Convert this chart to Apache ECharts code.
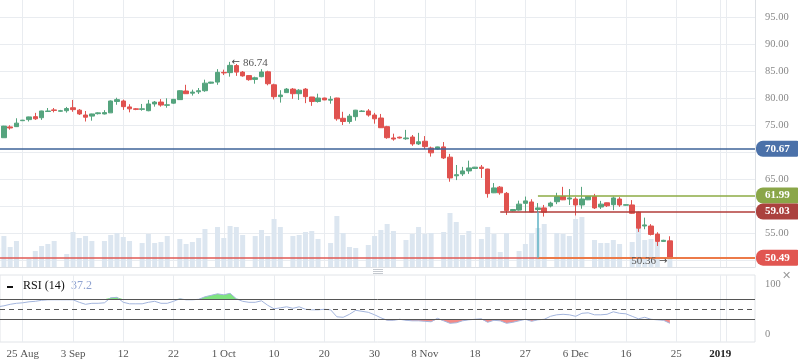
<!DOCTYPE html>
<html><head><meta charset="utf-8">
<script src="https://cdn.jsdelivr.net/npm/echarts@6/dist/echarts.min.js"></script>
<style>html,body{margin:0;padding:0;background:#fff}#c{width:798px;height:363px}</style>
</head><body><div id="c"></div>
<script>
// ---- data (one entry per candle, left to right) ----
const opens  = [72.1,72.7,74.7,74.75,75.85,76.05,76.6,76.4,77.55,77.85,77.6,77.7,78.25,77.8,76.9,76.7,77.15,77.1,77.3,79.4,79.5,78.4,78.05,77.95,77.7,78.95,79.3,78.7,79.1,79.75,81.35,80.95,81.2,81.4,82.8,83.0,84.8,84.75,86.05,84.85,84.2,83.5,84.0,84.9,82.5,80.3,81.05,81.7,80.85,81.7,80.24,79.4,80.05,79.65,80.05,76.3,75.7,76.6,77.55,77.65,76.9,76.35,74.75,72.65,72.8,72.5,72.83,71.55,72.05,70.8,70.6,71.0,69.1,65.65,66.0,66.55,67.0,67.25,66.9,62.5,63.55,62.4,59.15,59.3,60.55,60.8,59.4,59.7,60.05,60.85,61.8,61.35,61.35,60.25,61.2,61.8,59.87,60.65,60.3,61.35,60.2,60.25,58.9,56.35,56.35,54.85,53.5,53.6];
const closes = [72.9,74.85,74.5,75.4,75.95,76.55,76.2,77.65,77.65,77.75,77.7,78.1,77.9,77.1,76.5,77.1,77.3,77.35,79.5,79.75,78.45,78.05,77.95,78.05,78.95,79.3,78.75,78.8,79.8,81.4,80.85,81.15,81.4,82.8,83.0,84.8,84.7,86.1,84.85,84.15,83.45,83.8,84.87,82.7,80.3,80.6,81.7,80.85,81.5,80.3,79.4,80.05,79.7,79.8,76.2,75.7,76.7,77.8,77.65,76.9,76.2,74.55,72.7,72.45,72.65,72.65,71.55,71.95,71.05,69.9,71.0,68.95,65.25,65.85,66.55,67.1,67.25,67.0,62.35,63.4,62.5,59.2,59.4,60.4,61.0,58.95,59.7,58.9,60.6,61.8,61.2,61.55,60.25,61.35,61.8,59.7,60.4,60.1,61.55,60.25,60.3,58.7,55.95,56.55,54.8,53.5,53.7,50.49];
const lows   = [71.9,72.7,74.2,74.7,75.8,75.7,76.0,76.0,77.5,77.4,77.5,77.35,77.5,76.9,75.7,75.85,77.0,77.0,77.3,78.8,77.85,77.4,77.8,77.7,77.6,78.45,78.45,78.25,79.0,79.7,80.8,80.5,80.8,81.2,82.7,82.5,84.3,84.0,84.15,84.0,83.25,82.7,83.9,82.4,79.8,79.2,81.0,79.9,79.7,79.1,78.6,79.2,79.65,79.0,75.85,75.05,75.3,75.85,77.5,76.6,75.3,74.5,72.5,72.15,72.55,72.3,71.2,71.35,70.6,69.2,70.5,68.75,64.55,64.85,65.6,66.0,66.95,65.25,61.6,62.45,62.15,58.4,59.05,59.2,58.9,58.9,58.8,58.1,59.8,60.4,61.15,60.25,58.3,59.55,61.15,59.5,59.5,59.87,59.3,59.9,60.15,58.6,55.25,55.75,54.6,52.65,53.45,50.36];
const highs  = [73.0,74.9,75.0,76.3,76.0,76.6,77.3,77.7,78.2,78.2,77.85,78.4,79.7,78.0,77.65,77.15,77.4,77.8,79.6,80.1,79.75,78.9,78.2,78.95,79.7,79.5,79.85,80.0,79.9,81.5,82.5,81.6,81.9,83.45,83.05,85.4,85.3,86.74,86.35,85.05,84.3,84.0,85.4,85.1,82.7,81.5,81.9,81.9,81.7,81.9,80.25,80.85,80.1,80.4,80.1,77.5,77.1,77.85,77.8,78.0,77.3,77.1,74.9,73.45,72.9,74.15,73.2,73.6,73.0,71.05,71.05,71.9,69.7,67.65,67.3,68.45,67.3,67.65,66.95,64.3,63.75,62.65,59.5,61.05,61.8,61.3,60.6,60.25,60.85,62.5,63.6,63.2,61.7,63.6,61.9,62.3,61.0,60.7,61.8,61.7,60.35,61.15,59.0,57.9,56.7,55.2,53.8,54.45];
const volumes = [19,31,20,26,0,8,16,21,23,26,0,13,35,29,31,26,0,26,32,34,30,26,0,24,33,24,25,31,0,28,23,25,29,38,0,40,29,41,40,32,0,31,37,31,48,40,0,31,32,35,36,28,0,24,51,34,20,19,0,22,31,37,43,36,0,27,33,40,33,34,0,35,54,45,32,36,0,28,40,33,15,34,0,16,23,34,39,43,0,34,33,31,48,50,0,27,24,24,27,23,0,25,40,27,28,25,0,16];
const rsiValues = [55,57,60,62,63,65,66,68,69,69,69,69,69,64,60,62,62,63,73,74,64,61,61,61,64,66,62,62,66,71,69,69,70,75,78,81,79,82,71,66,64,64,67,58,51,53,55,52,55,50,49,49,50,49,35,34,40,48,46,44,39,33,28,28,30,28,27,27,26,25,32,27,22,23,27,29,30,31,24,28,27,22,24,27,30,26,29,30,36,39,40,39,36,42,43,39,39,40,45,42,41,36,31,34,30,29,28,22];

// x-axis ticks (positions in candle slots) and their labels
const tickSlots  = [4,12,20,28,36,44,52,60,68,76,84,92,100,108,115];
const tickLabels = ['25 Aug','3 Sep','12','22','1 Oct','10','20','30','8 Nov','18','27','6 Dec','16','25','2019'];
const extraGridSlots = [116];
const priceGrid   = [50,55,60,65,70,75,80,85,90,95];
const priceLabels = [55,65,75,80,85,90,95];
const rsiLabels   = [0,100];
const rsiLevels   = [70,50,30];

// drawn price levels
const blueLevel = 70.67, greenLevel = 61.99, darkRedLevel = 59.03, lastLevel = 50.49;
const greenFrom = 86, darkRedFrom = 80, measureSlot = 86;
const highMark = {slot: 37, value: 86.74};
const lowMark  = {slot: 107, value: 50.36};
const rsiName = 'RSI (14)', rsiShown = '37.2';

// ---- view ----
const SERIF = '"Liberation Serif","Times New Roman",serif';
const ARROWF = '"DejaVu Sans",sans-serif';
const GRID = '#e9ecf0';
const xMin = 0.38, xMax = 120.55;
const priceMin = 48.76, priceMax = 98.2;
const volMax = 267;
const rsiMin = -15.4, rsiMax = 118.6;
const UP = '#55a47e', DOWN = '#e0524f';

const chart = echarts.init(document.getElementById('c'));
const candleData = opens.map((o, i) => [i, o, closes[i], lows[i], highs[i]]);
const volData = volumes.map((v, i) => [i, v]);
const rsiData = rsiValues.map((v, i) => [i, v]);
const rsiUp = rsiValues.map((v, i) => [i, Math.max(v, 70)]);
const rsiDown = rsiValues.map((v, i) => [i, Math.min(v, 30)]);
const gridSlots = tickSlots.concat(extraGridSlots).sort((a, b) => a - b);

function badge(bg, value) {
  return {show: true, position: 'end', distance: 1, color: '#fff', fontWeight: 'bold',
    fontSize: 11, fontFamily: SERIF, backgroundColor: bg, padding: [3, 9, 2, 9],
    borderRadius: [7, 2, 2, 7], formatter: value.toFixed(2)};
}
const noteRich = {a: {fontFamily: ARROWF, fontSize: 10, color: '#444'}, t: {fontFamily: SERIF, fontSize: 11, color: '#555'}};

const option = {
  animation: false,
  backgroundColor: '#fff',
  textStyle: {fontFamily: SERIF},
  grid: [
    {left: 0, right: 43, top: 0, height: 267},
    {left: 0, right: 43, top: 275, height: 67, show: true, borderColor: '#e1e4e8', borderWidth: 1}
  ],
  xAxis: [
    {type: 'value', gridIndex: 0, min: xMin, max: xMax,
      axisLine: {show: true, onZero: false, lineStyle: {color: '#dde0e4'}},
      axisTick: {show: false, customValues: gridSlots}, axisLabel: {show: false},
      splitLine: {show: true, lineStyle: {color: GRID}}},
    {type: 'value', gridIndex: 1, min: xMin, max: xMax,
      axisLine: {show: false, onZero: false},
      axisTick: {show: false, customValues: gridSlots},
      axisLabel: {show: true, customValues: tickSlots, color: '#555', fontSize: 11, margin: 7,
        formatter: v => { const k = tickSlots.indexOf(v); const t = k >= 0 ? tickLabels[k] : '';
          return /^\d{4}$/.test(t) ? '{y|' + t + '}' : t; },
        rich: {y: {fontWeight: 'bold', color: '#222', fontSize: 11, fontFamily: SERIF}}},
      splitLine: {show: true, lineStyle: {color: GRID}}}
  ],
  yAxis: [
    {type: 'value', gridIndex: 0, position: 'right', min: priceMin, max: priceMax,
      axisLine: {show: true, lineStyle: {color: '#dde0e4'}},
      axisTick: {show: false, customValues: priceGrid},
      axisLabel: {customValues: priceLabels, formatter: v => v.toFixed(2), color: '#888', fontSize: 10.5, margin: 10},
      splitLine: {show: true, lineStyle: {color: GRID}}},
    {type: 'value', gridIndex: 0, min: 0, max: volMax, show: false},
    {type: 'value', gridIndex: 1, position: 'right', min: rsiMin, max: rsiMax,
      axisLine: {show: false}, axisTick: {show: false, customValues: rsiLabels},
      axisLabel: {customValues: rsiLabels, color: '#888', fontSize: 10.5, margin: 10},
      splitLine: {show: false}}
  ],
  series: [
    {type: 'bar', name: 'volume', xAxisIndex: 0, yAxisIndex: 1, data: volData, barWidth: 5,
      itemStyle: {color: '#dce6f0'}, z: 1, silent: true},
    {type: 'candlestick', name: 'price', xAxisIndex: 0, yAxisIndex: 0, data: candleData,
      encode: {x: 0, y: [1, 2, 3, 4]}, barWidth: 5, clip: false, z: 3,
      itemStyle: {color: UP, color0: DOWN, borderColor: UP, borderColor0: DOWN, borderWidth: 1},
      markLine: {symbol: ['none', 'none'], silent: true, animation: false, z: 4,
        data: [
          {yAxis: lastLevel, lineStyle: {color: '#e05a55', width: 1.5, type: 'solid'}, label: badge('#e15651', lastLevel)},
          {yAxis: blueLevel, lineStyle: {color: '#3e6399', width: 1.5, type: 'solid'}, label: badge('#4b71a9', blueLevel)},
          [{coord: [greenFrom, greenLevel], lineStyle: {color: '#8dab45', width: 1.5, type: 'solid'}, label: badge('#8aa648', greenLevel)},
           {coord: [xMax, greenLevel]}],
          [{coord: [darkRedFrom, darkRedLevel], lineStyle: {color: '#b23c3a', width: 1.5, type: 'solid'}, label: badge('#ab413e', darkRedLevel)},
           {coord: [xMax, darkRedLevel]}],
          [{coord: [measureSlot, lastLevel], lineStyle: {color: '#ec7a48', width: 2, type: 'solid'}, label: {show: false}},
           {coord: [xMax, lastLevel]}],
          [{coord: [measureSlot, darkRedLevel], lineStyle: {color: '#5eb2c4', width: 1.5, type: 'solid'}, label: {show: false}},
           {coord: [measureSlot, lastLevel]}]
        ]},
      markPoint: {silent: true, symbol: 'circle', symbolSize: 1, itemStyle: {color: 'rgba(0,0,0,0)'},
        data: [
          {coord: [highMark.slot, highMark.value], label: {show: true, position: 'right', distance: 1, offset: [0, 1],
            formatter: '{a|\u2190} {t|' + highMark.value.toFixed(2) + '}', rich: noteRich}},
          {coord: [lowMark.slot, lowMark.value], label: {show: true, position: 'left', distance: 2, offset: [0, 3],
            formatter: '{t|' + lowMark.value.toFixed(2) + '} {a|\u2192}', rich: noteRich}}
        ]}},
    {type: 'line', name: 'rsiUp', xAxisIndex: 1, yAxisIndex: 2, data: rsiUp, symbol: 'none',
      lineStyle: {width: 0}, areaStyle: {origin: 70, color: '#7fe47f', opacity: 1}, silent: true, z: 2},
    {type: 'line', name: 'rsiDown', xAxisIndex: 1, yAxisIndex: 2, data: rsiDown, symbol: 'none',
      lineStyle: {width: 0}, areaStyle: {origin: 30, color: '#f38a86', opacity: 1}, silent: true, z: 2},
    {type: 'line', name: rsiName, xAxisIndex: 1, yAxisIndex: 2, data: rsiData, symbol: 'none',
      lineStyle: {color: '#a3b5dd', width: 1}, silent: true, z: 3,
      markLine: {symbol: ['none', 'none'], silent: true, label: {show: false},
        data: rsiLevels.map(v => ({yAxis: v, lineStyle: {color: '#555', width: 1, type: v === 50 ? [5, 4] : 'solid'}}))}}
  ],
  graphic: [
    {type: 'rect', left: 7, top: 286, shape: {width: 6, height: 2}, style: {fill: '#111'}},
    {type: 'text', left: 23, top: 280, style: {text: rsiName, fill: '#111', font: '12px ' + SERIF}},
    {type: 'text', left: 71, top: 280, style: {text: rsiShown, fill: '#8fa3d1', font: '12px ' + SERIF}},
    {type: 'rect', left: 373, top: 269, shape: {width: 10, height: 1}, style: {fill: '#c5c9cf'}},
    {type: 'rect', left: 373, top: 271, shape: {width: 10, height: 1}, style: {fill: '#c5c9cf'}},
    {type: 'rect', left: 373, top: 273, shape: {width: 10, height: 1}, style: {fill: '#c5c9cf'}},
    {type: 'text', left: 782, top: 271, style: {text: '\u2715', fill: '#999', font: '11px "DejaVu Sans",sans-serif'}}
  ]
};
chart.setOption(option);
</script></body></html>
